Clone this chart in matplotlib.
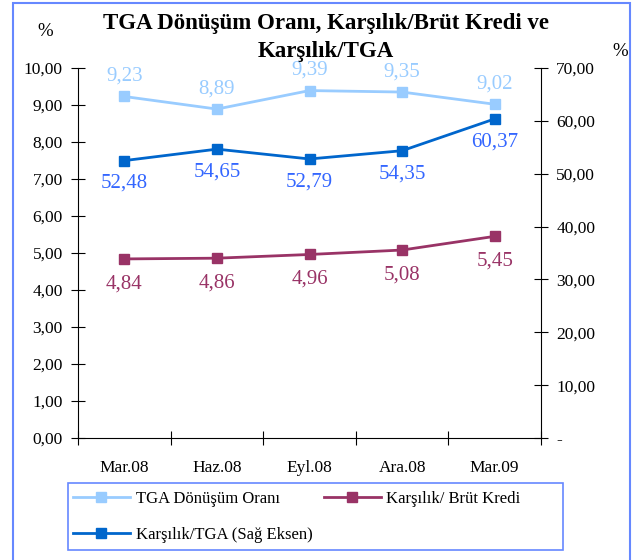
import matplotlib
matplotlib.use("Agg")
import matplotlib.pyplot as plt
from matplotlib.patches import Rectangle
from matplotlib.lines import Line2D

plt.rcParams['font.family'] = ['Liberation Serif', 'DejaVu Serif']

categories = ["Mar.08", "Haz.08", "Eyl.08", "Ara.08", "Mar.09"]
tga_donusum = [9.23, 8.89, 9.39, 9.35, 9.02]
karsilik_brut = [4.84, 4.86, 4.96, 5.08, 5.45]
karsilik_tga = [52.48, 54.65, 52.79, 54.35, 60.37]
left_ticks = [0, 1, 2, 3, 4, 5, 6, 7, 8, 9, 10]
right_ticks = [0, 10, 20, 30, 40, 50, 60, 70]

c_light = "#99CCFF"
c_maroon = "#993366"
c_blue = "#0066CC"
c_bluelbl = "#3366FF"
c_frame = "#6688FF"

def fmt(v):
    return f"{v:.2f}".replace(".", ",")

fig = plt.figure(figsize=(6.38, 5.6), dpi=100)
ax = fig.add_axes([78/638, 122/560, (541-78)/638, (438-68)/560])
ax2 = ax.twinx()

x = list(range(len(categories)))
ax.plot(x, tga_donusum, color=c_light, lw=2, marker='s', ms=7, zorder=3)
ax.plot(x, karsilik_brut, color=c_maroon, lw=2, marker='s', ms=7, zorder=3)
ax2.plot(x, karsilik_tga, color=c_blue, lw=2, marker='s', ms=7, zorder=3)

for xi, v in zip(x, tga_donusum):
    ax.annotate(fmt(v), (xi, v), xytext=(0, 14.5), textcoords='offset points',
                ha='center', va='center', color=c_light, fontsize=15)
for xi, v in zip(x, karsilik_brut):
    ax.annotate(fmt(v), (xi, v), xytext=(0, -18), textcoords='offset points',
                ha='center', va='center', color=c_maroon, fontsize=15)
for xi, v in zip(x, karsilik_tga):
    ax2.annotate(fmt(v), (xi, v), xytext=(0, -16.5), textcoords='offset points',
                 ha='center', va='center', color=c_bluelbl, fontsize=15)

ax.set_xlim(-0.5, len(categories) - 0.5)
ax.set_ylim(0, 10)
ax2.set_ylim(0, 70)
ax.set_yticks(left_ticks)
ax.set_yticklabels([fmt(t) for t in left_ticks])
ax2.set_yticks(right_ticks)
ax2.set_yticklabels(["-"] + [fmt(t) for t in right_ticks[1:]])

ax.set_xticks([i - 0.5 for i in range(len(categories) + 1)])
ax.set_xticklabels([])
ax.set_xticks(x, minor=True)
ax.set_xticklabels(categories, minor=True)
ax.tick_params(axis='x', which='minor', length=0, pad=16, labelsize=12.5)
ax.tick_params(axis='x', which='major', direction='inout', length=10)
ax.tick_params(axis='y', direction='inout', length=10, labelsize=12.5, pad=6)
ax2.tick_params(axis='y', direction='inout', length=10, labelsize=12.5, pad=6)

for a in (ax, ax2):
    a.spines['top'].set_visible(False)
ax.spines['right'].set_visible(False)
ax2.spines['left'].set_visible(False)
ax2.spines['bottom'].set_visible(False)

fig.text(326/638, 1 - 23/560, "TGA Dönüşüm Oranı, Karşılık/Brüt Kredi ve",
         ha='center', va='center', fontsize=16.5, fontweight='bold')
fig.text(326/638, 1 - 51/560, "Karşılık/TGA",
         ha='center', va='center', fontsize=16.5, fontweight='bold')
fig.text(45/638, 1 - 31/560, "%", ha='center', va='center', fontsize=13.5)
fig.text(620/638, 1 - 52/560, "%", ha='center', va='center', fontsize=13.5)

handles = [
    Line2D([], [], color=c_light, lw=2, marker='s', ms=7),
    Line2D([], [], color=c_blue, lw=2, marker='s', ms=7),
    Line2D([], [], color=c_maroon, lw=2, marker='s', ms=7),
]
labels = ["TGA Dönüşüm Oranı", "Karşılık/TGA (Sağ Eksen)", "Karşılık/ Brüt Kredi"]
leg = fig.legend(handles, labels, loc='upper left',
                 bbox_to_anchor=(73/638, 1 - 491/560), ncol=2, fontsize=12,
                 frameon=False, borderpad=0, borderaxespad=0,
                 handlelength=3.4, columnspacing=0.7, labelspacing=1.2,
                 handletextpad=0.35)

fig.patches.append(Rectangle((68/638, 1 - 550/560), (563-68)/638, 67/560,
                             transform=fig.transFigure, fill=False,
                             edgecolor=c_frame, lw=1.2))
fig.patches.append(Rectangle((13/638, -0.05), (630-13)/638, 1 - 3/560 + 0.05,
                             transform=fig.transFigure, fill=False,
                             edgecolor=c_frame, lw=1.5))

fig.savefig("out.png", dpi=100)
